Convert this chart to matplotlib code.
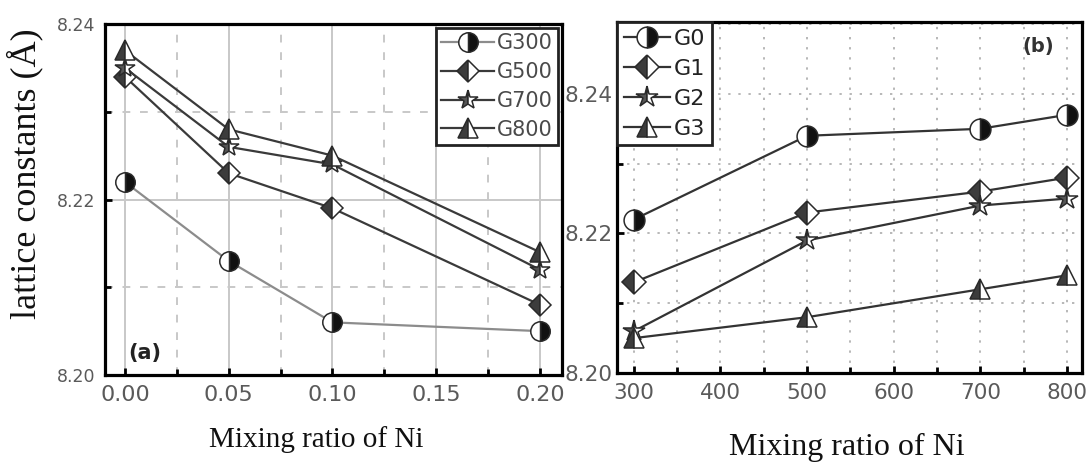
import matplotlib
matplotlib.use("Agg")
import matplotlib.pyplot as plt
from matplotlib.ticker import MultipleLocator, FormatStrFormatter

# Lattice constants (Å) vs Ni mixing ratio, one series per annealing temperature
ni_ratio = [0.00, 0.05, 0.10, 0.20]
g300 = [8.222, 8.213, 8.206, 8.205]
g500 = [8.234, 8.223, 8.219, 8.208]
g700 = [8.235, 8.226, 8.224, 8.212]
g800 = [8.237, 8.228, 8.225, 8.214]
temp_labels = ["G300", "G500", "G700", "G800"]

# Same data regrouped vs annealing temperature, one series per Ni ratio
temperatures = [300, 500, 700, 800]
ratio_labels = ["G0", "G1", "G2", "G3"]

by_temp = [g300, g500, g700, g800]
by_ratio = [[row[i] for row in by_temp] for i in range(len(ni_ratio))]

SANS = ["DejaVu Sans"]
SERIF = ["Liberation Serif", "DejaVu Serif"]
EDGE = "#2a2a2a"

styles = [
    dict(marker="o", fillstyle="right", markerfacecolor="#111111",
         markerfacecoloralt="white", markersize=14),
    dict(marker="D", fillstyle="left", markerfacecolor="#3c3c3c",
         markerfacecoloralt="white", markersize=11),
    dict(marker="*", fillstyle="left", markerfacecolor="#555555",
         markerfacecoloralt="white", markersize=15),
    dict(marker="^", fillstyle="left", markerfacecolor="#3c3c3c",
         markerfacecoloralt="white", markersize=14),
]

fig = plt.figure(figsize=(10.88, 4.62), dpi=100)
ax1 = fig.add_axes([0.0965, 0.1883, 0.4200, 0.7597])
ax2 = fig.add_axes([0.5671, 0.1926, 0.4274, 0.7597])


def style_axes(ax):
    for sp in ax.spines.values():
        sp.set_linewidth(2.3)
        sp.set_color("black")
    ax.tick_params(which="both", direction="in", top=False, right=False,
                   width=2.0, colors="black", labelcolor="#5a5a5a")
    ax.tick_params(which="major", length=5, pad=7)
    ax.tick_params(which="minor", length=4)
    ax.set_axisbelow(True)


# ---- panel (a)
style_axes(ax1)
line_cols_a = ["#8c8c8c", "#3a3a3a", "#3a3a3a", "#3a3a3a"]
for ys, lab, st, lc in zip(by_temp, temp_labels, styles, line_cols_a):
    ax1.plot(ni_ratio, ys, color=lc, lw=1.6, markeredgecolor=EDGE,
             markeredgewidth=1.1, label=lab, **st)
ax1.set_xlim(-0.0096, 0.2106)
ax1.set_ylim(8.20, 8.24)
ax1.xaxis.set_major_locator(MultipleLocator(0.05))
ax1.xaxis.set_minor_locator(MultipleLocator(0.025))
ax1.yaxis.set_major_locator(MultipleLocator(0.02))
ax1.yaxis.set_minor_locator(MultipleLocator(0.01))
ax1.xaxis.set_major_formatter(FormatStrFormatter("%.2f"))
ax1.yaxis.set_major_formatter(FormatStrFormatter("%.2f"))
ax1.grid(which="major", color="#c8c8c8", lw=1.4, ls="-")
ax1.grid(which="minor", color="#c8c8c8", lw=1.4, ls=(0, (4, 5)))
for t in ax1.get_xticklabels():
    t.set_fontsize(16); t.set_family(SANS)
for t in ax1.get_yticklabels():
    t.set_fontsize(12.5); t.set_family(SANS)
leg1 = ax1.legend(loc="upper right", prop=dict(family=SANS, size=15),
                  handlelength=2.5, handletextpad=0.15, borderpad=0.25,
                  labelspacing=0.42, borderaxespad=0.2, fancybox=False,
                  framealpha=1, edgecolor="#222222")
leg1.get_frame().set_linewidth(2.0)
for t in leg1.get_texts():
    t.set_color("#4a4a4a")
ax1.text(0.05, 0.045, "(a)", transform=ax1.transAxes, fontsize=15,
         fontweight="bold", family=SANS, color="#222222")

# ---- panel (b)
style_axes(ax2)
for ys, lab, st in zip(by_ratio, ratio_labels, styles):
    st2 = dict(st)
    st2["markersize"] = st["markersize"] + 1
    ax2.plot(temperatures, ys, color="#333333", lw=1.6, markeredgecolor=EDGE,
             markeredgewidth=1.1, label=lab, **st2)
ax2.set_xlim(280.5, 817.5)
ax2.set_ylim(8.20, 8.2503)
ax2.xaxis.set_major_locator(MultipleLocator(100))
ax2.xaxis.set_minor_locator(MultipleLocator(50))
ax2.yaxis.set_major_locator(MultipleLocator(0.02))
ax2.yaxis.set_minor_locator(MultipleLocator(0.01))
ax2.yaxis.set_major_formatter(FormatStrFormatter("%.2f"))
ax2.grid(which="both", color="#b8b8b8", lw=1.4, ls=(0, (1.2, 4)))
for t in ax2.get_xticklabels() + ax2.get_yticklabels():
    t.set_fontsize(15.5); t.set_family(SANS)
ax2.tick_params(axis="y", pad=3)
leg2 = ax2.legend(loc="upper left", prop=dict(family=SANS, size=16),
                  handlelength=2.1, handletextpad=0.15, borderpad=0.3,
                  labelspacing=0.45, borderaxespad=0.0, fancybox=False,
                  framealpha=1, edgecolor="#222222")
leg2.get_frame().set_linewidth(2.0)
for t in leg2.get_texts():
    t.set_color("#222222")
ax2.text(0.905, 0.915, "(b)", transform=ax2.transAxes, fontsize=14,
         fontweight="bold", family=SANS, color="#333333", ha="center")

# ---- axis titles
fig.text(0.023, 0.625, "lattice constants (Å)", rotation=90, ha="center",
         va="center", fontsize=26, family=SERIF, color="#111111")
fig.text(0.291, 0.048, "Mixing ratio of Ni", ha="center", va="center",
         fontsize=21, family=SERIF, color="#111111")
fig.text(0.778, 0.032, "Mixing ratio of Ni", ha="center", va="center",
         fontsize=23, family=SERIF, color="#111111")

fig.savefig("out.png", dpi=100)
